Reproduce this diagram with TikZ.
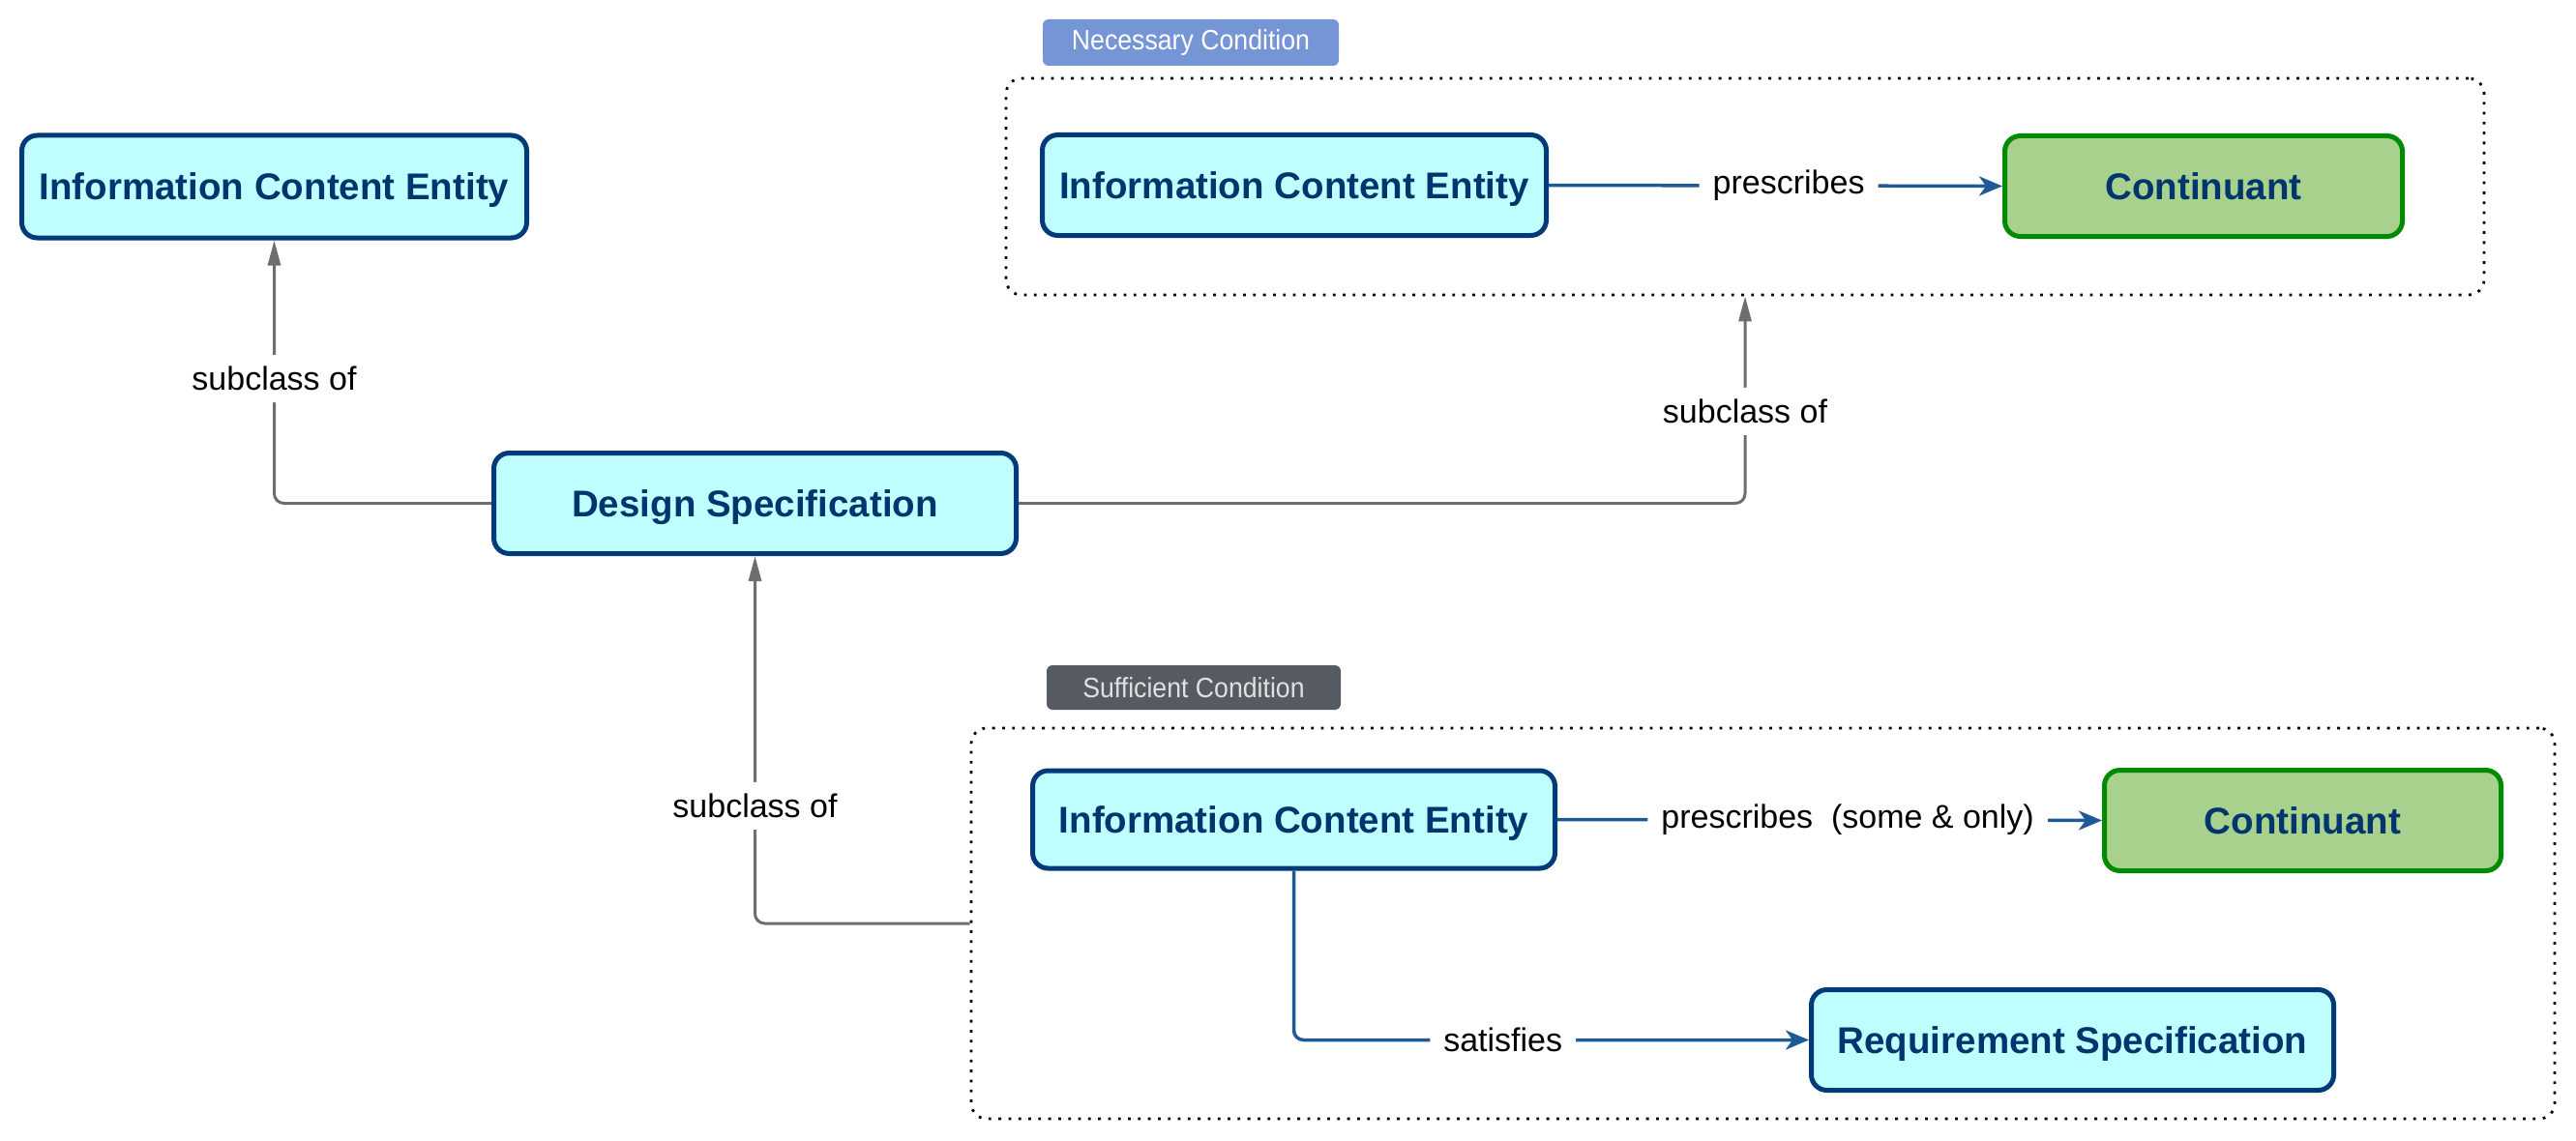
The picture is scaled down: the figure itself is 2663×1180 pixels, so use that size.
\documentclass[tikz,border=0pt]{standalone}
\usepackage{fontspec}
\setmainfont{Liberation Sans}
\usetikzlibrary{arrows.meta,positioning}
\definecolor{cfill}{HTML}{BFFFFF}
\definecolor{cborder}{HTML}{003A78}
\definecolor{ctext}{HTML}{00356E}
\definecolor{gfill}{HTML}{A9D18E}
\definecolor{gborder}{HTML}{008A00}
\definecolor{linkblue}{HTML}{1F5A96}
\definecolor{linkgray}{HTML}{6E6E6E}
\definecolor{necfill}{HTML}{7595D6}
\definecolor{suffill}{HTML}{565A63}
\tikzset{
  cls/.style={draw=cborder, fill=cfill, line width=5pt, rounded corners=16pt,
    minimum height=104pt, inner sep=0pt, text=ctext, text depth=0pt,
    font=\fontsize{38.5}{44}\selectfont\bfseries},
  gcls/.style={cls, draw=gborder, fill=gfill},
  groupbox/.style={draw=black, line width=2.8pt, dash pattern=on 2.8pt off 7.5pt,
    rounded corners=16pt, inner sep=0pt},
  tagbox/.style={rounded corners=6pt, inner sep=0pt,
    font=\fontsize{29}{32}\selectfont},
  lbl/.style={fill=white, inner xsep=14pt, inner ysep=12pt, text=black,
    font=\fontsize{34}{38}\selectfont},
  subarrow/.style={draw=linkgray, line width=3pt, rounded corners=10pt,
    -{Triangle[length=26pt,width=13pt]}},
  relarrow/.style={draw=linkblue, line width=3.5pt, rounded corners=10pt,
    -{Stealth[length=24pt,width=20pt,inset=7pt]}},
}
\begin{document}
\begin{tikzpicture}[x=1pt,y=1pt]
\useasboundingbox (0,0) rectangle (2663,-1180);
% group boxes and tags
\node[groupbox, minimum width=1528pt, minimum height=224pt] (nec) at (1804,-193) {};
\node[groupbox, minimum width=1637pt, minimum height=404pt] (suf) at (1822.5,-955) {};
\node[tagbox, fill=necfill, text=white, minimum width=306pt, minimum height=48pt] (nectag) at (1231,-44) {\scalebox{0.92}[1]{Necessary Condition}};
\node[tagbox, fill=suffill, text=white!88!black, minimum width=304pt, minimum height=46pt] (suftag) at (1234,-711) {\scalebox{0.92}[1]{Sufficient Condition}};
% classes
\node[cls, minimum width=522pt, minimum height=106pt] (ice1) at (283.5,-193) {Information Content Entity};
\node[cls, minimum width=521pt] (ice2) at (1338,-191.5) {Information Content Entity};
\node[gcls, minimum width=411pt] (cont1) at (2278,-192.5) {Continuant};
\node[cls, minimum width=540pt] (ds) at (780.5,-520.5) {Design Specification};
\node[cls, minimum width=540pt, minimum height=101pt] (ice3) at (1337.5,-847.5) {Information Content Entity};
\node[gcls, minimum width=410pt] (cont2) at (2380.5,-848.5) {Continuant};
\node[cls, minimum width=540pt] (req) at (2142.5,-1075.5) {Requirement Specification};
% connectors
\draw[subarrow] (ds.west) -| node[lbl, pos=0.737] {subclass of} (ice1.south);
\draw[subarrow] (ds.east) -| node[lbl, pos=0.722] {subclass of} (nec.south);
\draw[subarrow] (suf.west) -| node[lbl, pos=0.66] {subclass of} (ds.south);
\draw[relarrow] (ice2.east) -- node[lbl, pos=0.529] {prescribes} (cont1.west);
\draw[relarrow] (ice3.east) -- node[lbl, pos=0.533] {prescribes\ \ (some \& only)} (cont2.west);
\draw[relarrow] (ice3.south) |- node[lbl, pos=0.703] {satisfies} (req.west);
\end{tikzpicture}
\end{document}
